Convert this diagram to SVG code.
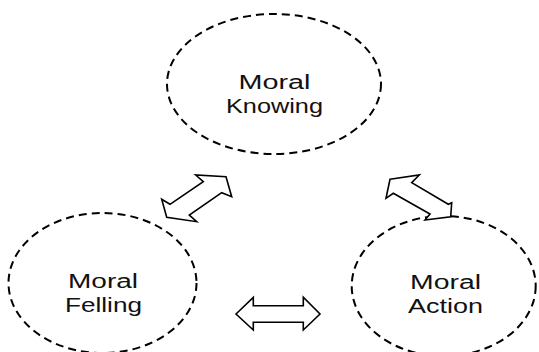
<svg xmlns="http://www.w3.org/2000/svg" width="539" height="352" viewBox="0 0 539 352">
<style>
.node{fill:none;stroke:#000;stroke-width:2;stroke-dasharray:8 5}
.lbl{font-family:"Liberation Sans","Open Sans",sans-serif;font-size:20px;fill:#111;text-anchor:middle}
.arr{fill:#fff;stroke:#000;stroke-width:1.6;stroke-linejoin:miter}
</style>
<rect width="539" height="352" fill="#fff"/>
<g id="moral-knowing">
<ellipse class="node" cx="274" cy="84" rx="107" ry="70"/>
<text class="lbl" x="274.5" y="89" textLength="72" lengthAdjust="spacingAndGlyphs">Moral</text>
<text class="lbl" x="274.5" y="113" textLength="97" lengthAdjust="spacingAndGlyphs">Knowing</text>
</g>
<g id="moral-felling">
<ellipse class="node" cx="102.5" cy="283" rx="94" ry="70"/>
<text class="lbl" x="103" y="288" textLength="70" lengthAdjust="spacingAndGlyphs">Moral</text>
<text class="lbl" x="103.5" y="312" textLength="77" lengthAdjust="spacingAndGlyphs">Felling</text>
</g>
<g id="moral-action">
<ellipse class="node" cx="443.7" cy="286" rx="92" ry="70"/>
<text class="lbl" x="445.5" y="289" textLength="71" lengthAdjust="spacingAndGlyphs">Moral</text>
<text class="lbl" x="445.5" y="312.5" textLength="75" lengthAdjust="spacingAndGlyphs">Action</text>
</g>
<g id="connectors">
<polygon class="arr" points="226,176.7 231.7,196.7 221.7,192.7 189.3,215 196.7,221.7 166.7,217.3 161.7,199.3 170,204.3 203.3,181.7 195.7,175"/>
<polygon class="arr" points="390,179.3 419.3,175 411.7,182.7 448.3,204.3 451.7,202.7 450.7,216.7 425,220 430,214 393.3,193.3 386,198.3"/>
<polygon class="arr" points="236,314 253.3,297.3 253.3,305.7 303.3,305.7 303.3,297.3 320,314 303.3,330 303.3,322.3 253.3,322.3 253.3,330"/>
</g>
</svg>
